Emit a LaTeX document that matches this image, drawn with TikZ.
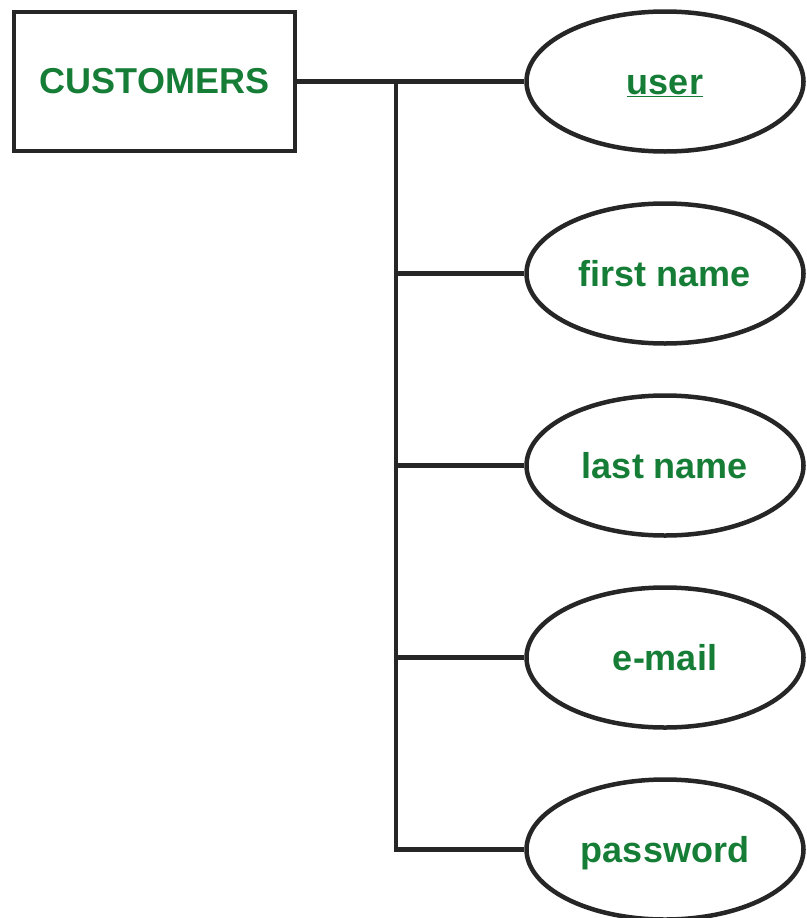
\documentclass[tikz,border=0pt]{standalone}
\usepackage{fontspec}
\setmainfont{Liberation Sans}
\usetikzlibrary{shapes.geometric}
\definecolor{attrgreen}{RGB}{22,125,55}
\begin{document}
\begin{tikzpicture}[
    x=1pt, y=-1pt,
    entity/.style = {shape=rectangle, draw=black!85, line width=4.5pt, minimum width=281pt, minimum height=139pt, inner sep=0pt, text=attrgreen, font=\bfseries\fontsize{36}{40}\selectfont},
    attribute/.style = {shape=ellipse, draw=black!85, line width=4.5pt, minimum width=277pt, minimum height=140pt, inner sep=0pt, text height=26pt, text depth=0pt, text=attrgreen, font=\bfseries\fontsize{36}{40}\selectfont},
    link/.style = {draw=black!85, line width=4.5pt}
  ]
\useasboundingbox (0,0) rectangle (806,918);
\node[entity] (customers) at (154.5,81.5) {CUSTOMERS};
\node[attribute] (user) at (665,81.5) {\underline{user}};
\node[attribute] (first) at (665,273.5) {first name};
\node[attribute] (last) at (665,465.5) {last name};
\node[attribute] (email) at (665,657.5) {e-mail};
\node[attribute] (password) at (665,849.5) {password};
\coordinate (trunk) at (396,81.5);
\draw[link] (customers.east) -- (user.west);
\draw[link] (trunk) |- (password.west);
\draw[link] (first.west -| trunk) -- (first.west);
\draw[link] (last.west -| trunk) -- (last.west);
\draw[link] (email.west -| trunk) -- (email.west);
\end{tikzpicture}
\end{document}
